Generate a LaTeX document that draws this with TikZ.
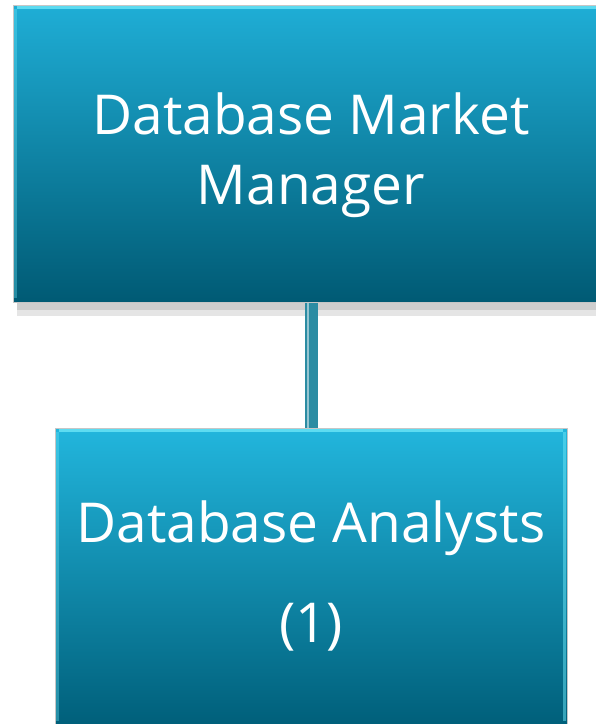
\documentclass[tikz,border=0pt]{standalone}
\usepackage{fontspec}
\setmainfont{Open Sans}
\usepackage{tikz}
\usetikzlibrary{positioning, calc}
\usepackage{xcolor}

\definecolor{boxtop}{HTML}{1FAED6}
\definecolor{boxbot}{HTML}{005A74}
\definecolor{boxtopb}{HTML}{22B6DD}
\definecolor{boxbotb}{HTML}{005F7A}
\definecolor{linkteal}{HTML}{2B8CA3}
\definecolor{shine}{HTML}{6CE6F7}

\begin{document}
\begin{tikzpicture}[
    x=1pt, y=-1pt,
    role/.style = {rectangle, draw=gray!45, line width=0.8pt, inner sep=0pt},
    label/.style = {text=white, align=center, font=\fontsize{55}{70}\selectfont},
    bevel/.style = {draw=shine, line width=3pt, opacity=0.8},
    shade/.style = {fill=black, opacity=0.1},
    link/.style = {draw=linkteal, line width=13pt}
]

% Frame
\useasboundingbox (0,0) rectangle (596,724);
\clip (0,0) rectangle (596,724);

% Shadow under manager
\fill [shade] (17,300) rectangle (600,316);
\fill [shade] (17,300) rectangle (600,310);

% Connector
\coordinate (L0) at (311,300);
\coordinate (L1) at (311,430);
\draw [link] (L0) -- (L1);
\draw [draw=white, line width=1.5pt, opacity=0.5] ([xshift=-3pt]L0) -- ([xshift=-3pt]L1);

% Manager
\node (Mgr) [role, minimum width=596pt, minimum height=297pt,
    top color=boxtop, bottom color=boxbot] at (311,153.5) {};
\node (MgrText) [label] at (311,155) {Database Market\\Manager};
\draw [bevel] ([xshift=4pt,yshift=-3pt]Mgr.north west) -- ([xshift=-4pt,yshift=-3pt]Mgr.north east);
\draw [bevel, opacity=0.35] ([xshift=3pt,yshift=-4pt]Mgr.north west) -- ([xshift=3pt,yshift=4pt]Mgr.south west);

% Analysts
\node (Ana) [role, minimum width=512pt, minimum height=297pt,
    top color=boxtopb, bottom color=boxbotb] at (311,576.5) {};
\node (AnaText) [label] at (311,576) {Database Analysts\\[30pt](1)};
\draw [bevel] ([xshift=4pt,yshift=-3pt]Ana.north west) -- ([xshift=-4pt,yshift=-3pt]Ana.north east);
\draw [bevel, opacity=0.35] ([xshift=3pt,yshift=-4pt]Ana.north west) -- ([xshift=3pt,yshift=4pt]Ana.south west);
\draw [bevel, opacity=0.5] ([xshift=-3pt,yshift=-4pt]Ana.north east) -- ([xshift=-3pt,yshift=4pt]Ana.south east);

\end{tikzpicture}
\end{document}
